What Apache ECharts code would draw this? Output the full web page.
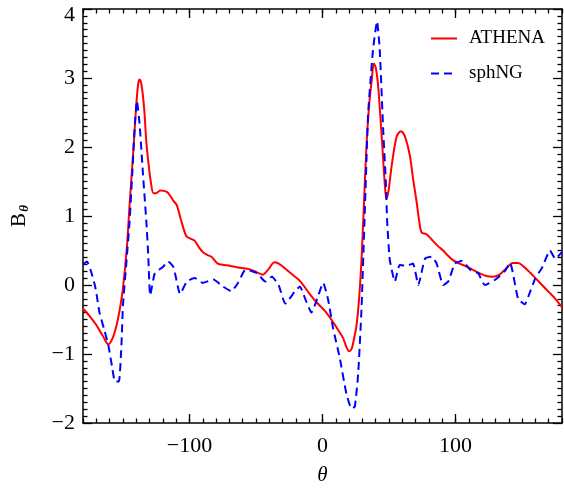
<!DOCTYPE html>
<html>
<head>
<meta charset="utf-8">
<script src="https://cdn.jsdelivr.net/npm/echarts@6/dist/echarts.min.js"></script>
<style>html,body{margin:0;padding:0;background:#fff}#c{width:564px;height:491px}</style>
</head>
<body>
<div id="c"></div>
<script>
const athenaTheta = [-180,-175,-170,-165,-161,-158,-155,-152.5,-150,-147,-145,-142,-140,-138.5,-137.5,-136,-134,-132.5,-131,-129,-127,-125,-122,-117,-114,-112,-109.6,-106,-102.4,-99,-96,-93,-90,-86,-83.5,-78.7,-74,-69.8,-62,-55,-50,-45,-41,-36,-32,-27,-22,-17,-10,-4.5,2,8,12,15.5,18,20,22,24,25.6,27.5,29.3,31,33,35,36.9,38.6,40,41.5,43,45,46.9,48,49.5,52,55.7,59,62,65.7,68,70.7,72.5,74.5,78,83,87,90.7,94,98,103,108,113,118,123,128,133,138,143,147,151,156,160,165,170,175,180];
const athenaB = [-0.34,-0.45,-0.58,-0.74,-0.86,-0.78,-0.6,-0.37,-0.05,0.55,1.16,2.0,2.6,2.92,2.98,2.9,2.55,2.1,1.8,1.49,1.33,1.33,1.37,1.35,1.28,1.22,1.16,0.92,0.71,0.67,0.64,0.55,0.48,0.43,0.41,0.31,0.29,0.28,0.25,0.23,0.19,0.15,0.22,0.33,0.3,0.22,0.14,0.06,-0.12,-0.25,-0.38,-0.54,-0.66,-0.77,-0.9,-0.96,-0.92,-0.75,-0.58,-0.2,0.36,1.1,2.0,2.6,2.95,3.21,3.15,2.95,2.58,2.0,1.44,1.25,1.35,1.73,2.15,2.23,2.15,1.87,1.55,1.21,0.95,0.76,0.74,0.64,0.56,0.5,0.43,0.36,0.31,0.27,0.22,0.17,0.13,0.12,0.15,0.24,0.32,0.32,0.27,0.18,0.1,0.0,-0.1,-0.2,-0.32];

const sphTheta = [-180,-177,-174,-171,-170,-167.6,-164,-161,-158,-156,-153,-151,-150,-147.5,-145,-143,-141,-139.5,-137.5,-135,-132.4,-131,-129.5,-126,-120,-116,-112,-107,-102,-96,-90,-82,-75,-68.5,-63.5,-58,-53,-49,-43,-38,-33,-28,-21,-17,-13,-8.3,-4,0.5,4.2,8,13,18,21.8,24.3,26.8,29.3,31.8,34.3,38,41,43,45.6,47.6,48.6,50.6,54.4,58,63,68,72,77,82,85.8,90.7,94.5,99.5,105,111,117,122,130,137,141,147,152,156,160,165,171,175,180];
const sphB = [0.3,0.34,0.2,-0.01,-0.11,-0.4,-0.65,-0.87,-1.2,-1.4,-1.4,-0.82,-0.3,0.3,0.92,1.6,2.34,2.67,2.34,1.63,0.92,0.45,-0.15,0.17,0.26,0.34,0.26,-0.13,0.05,0.1,0.03,0.08,-0.02,-0.09,0.03,0.22,0.2,0.17,0.05,0.12,0.0,-0.27,-0.1,-0.02,-0.2,-0.4,-0.2,0.03,-0.21,-0.63,-1.06,-1.58,-1.79,-1.76,-1.29,-0.35,1.07,2.48,3.42,3.82,3.42,2.25,1.49,0.92,0.36,0.05,0.29,0.28,0.31,0.0,0.38,0.41,0.31,0.0,0.05,0.31,0.35,0.22,0.17,0.0,0.08,0.2,0.32,-0.2,-0.28,-0.1,0.1,0.25,0.5,0.38,0.48];

const xMajor = [-100, 0, 100];
const seriesNames = ['ATHENA', 'sphNG'];

const FONT = 'Liberation Serif';
const fmtNum = v => (v < 0 ? '\u2212' + Math.abs(v) : String(v));

function xAxisDef(pos, major, showLabels) {
  const a = {
    type: 'value', min: -180, max: 180, position: pos, gridIndex: 0,
    splitLine: { show: false },
    axisLine: { show: major, onZero: false, lineStyle: { color: '#000', width: 1.5 } },
    axisLabel: { show: false },
    axisTick: { inside: true, lineStyle: { color: '#000', width: 1.3 } }
  };
  if (major) {
    a.axisTick.customValues = xMajor;
    a.axisTick.length = 9;
    if (showLabels) {
      a.axisLabel = { show: true, customValues: xMajor, formatter: fmtNum, color: '#000', fontFamily: FONT, fontSize: 22, margin: 12 };
      a.name = '\u03b8';
      a.nameLocation = 'middle';
      a.nameGap = 42;
      a.nameTextStyle = { fontFamily: FONT, fontStyle: 'italic', fontSize: 21, color: '#000' };
    }
  } else {
    a.interval = 10;
    a.axisTick.length = 4.5;
  }
  return a;
}

function yAxisDef(pos, showLabels) {
  const a = {
    type: 'value', min: -2, max: 4, interval: 1, position: pos,
    splitLine: { show: false },
    axisLine: { show: true, onZero: false, lineStyle: { color: '#000', width: 1.5 } },
    axisTick: { inside: true, length: 9, lineStyle: { color: '#000', width: 1.3 } },
    minorTick: { show: true, splitNumber: 10, length: 4.5, lineStyle: { color: '#000', width: 1.3 } },
    minorSplitLine: { show: false },
    axisLabel: { show: false }
  };
  if (showLabels) {
    a.axisLabel = {
      show: true, color: '#000', fontFamily: FONT, fontSize: 22, margin: 8,
      formatter: v => v === 4 ? '{t|4}' : fmtNum(v),
      rich: { t: { fontFamily: FONT, fontSize: 22, color: '#000', padding: [12, 0, 0, 0] } }
    };
    a.name = '{b|B}{s|\u03b8}';
    a.nameLocation = 'middle';
    a.nameRotate = 90;
    a.nameGap = 52;
    a.nameTextStyle = {
      rich: {
        b: { fontFamily: FONT, fontSize: 21, color: '#000' },
        s: { fontFamily: FONT, fontSize: 13, fontStyle: 'italic', fontWeight: 'bold', color: '#000', padding: [10, 0, 0, 1] }
      }
    };
  }
  return a;
}

const chart = echarts.init(document.getElementById('c'), null, { renderer: 'canvas' });
chart.setOption({
  animation: false,
  backgroundColor: '#fff',
  grid: { left: 83, right: 2, top: 9, bottom: 58, containLabel: false },
  legend: {
    orient: 'vertical', left: 425, top: 24,
    itemWidth: 26, itemHeight: 14, itemGap: 16,
    data: seriesNames,
    itemStyle: { opacity: 0 },
    textStyle: { fontFamily: FONT, fontSize: 19, color: '#000', padding: [0, 0, 0, 7] }
  },
  xAxis: [
    xAxisDef('bottom', true, true),
    xAxisDef('bottom', false, false),
    xAxisDef('top', true, false),
    xAxisDef('top', false, false)
  ],
  yAxis: [yAxisDef('left', true), yAxisDef('right', false)],
  series: [
    {
      name: seriesNames[0], type: 'line', xAxisIndex: 0, yAxisIndex: 0,
      data: athenaTheta.map((t, i) => [t, athenaB[i]]),
      showSymbol: false, symbol: 'none', smooth: 0.3,
      lineStyle: { color: '#ff0000', width: 2 }, itemStyle: { color: '#ff0000' }
    },
    {
      name: seriesNames[1], type: 'line', xAxisIndex: 0, yAxisIndex: 0,
      data: sphTheta.map((t, i) => [t, sphB[i]]),
      showSymbol: false, symbol: 'none', smooth: 0.15,
      lineStyle: { color: '#0000ff', width: 2, type: [8, 5] }, itemStyle: { color: '#0000ff' }
    }
  ]
});
</script>
</body>
</html>
